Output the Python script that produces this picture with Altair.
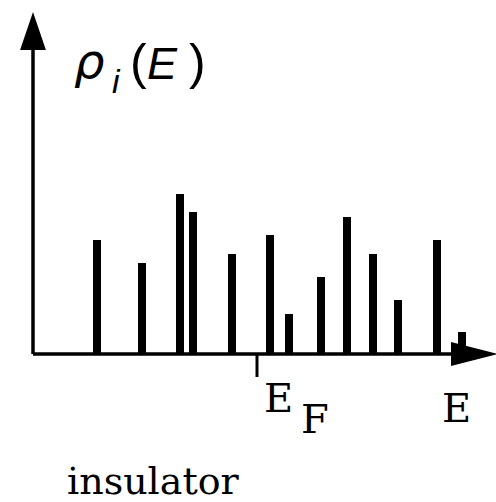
import altair as alt
import pandas as pd

# Discrete energy levels (arbitrary units) and their local DOS weights
levels = [6.4, 10.9, 14.7, 16.0, 19.9, 23.7, 25.6, 28.8, 31.4, 34.0, 36.5, 40.4, 42.9]
weights = [11.4, 9.1, 16.0, 14.2, 10.0, 11.9, 4.0, 7.7, 13.7, 10.0, 5.4, 11.4, 2.2]
fermi_level = 22.4
x_axis_end = 43.7
y_axis_end = 32.4
x_arrow_at = 44.15
y_arrow_at = 32.3
caption = "insulator"

W, H = 496, 502
xs = alt.Scale(domain=[-3.3, 46.3], nice=False, zero=False, padding=0)
ys = alt.Scale(domain=[-14.8, 35.4], nice=False, zero=False, padding=0)

bars_df = pd.DataFrame({"E": levels, "rho": weights, "base": [0.0] * len(levels)})
bars = alt.Chart(bars_df).mark_bar(size=8, color="black").encode(
    x=alt.X("E:Q", scale=xs, axis=None),
    y=alt.Y("rho:Q", scale=ys, axis=None),
    y2="base:Q",
)

axes_df = pd.DataFrame({
    "x": [0.0, 0.0], "x2": [x_axis_end, 0.0],
    "y": [0.0, 0.0], "y2": [0.0, y_axis_end],
})
axes = alt.Chart(axes_df).mark_rule(color="black", strokeWidth=3.5).encode(
    x=alt.X("x:Q", scale=xs, axis=None), x2="x2:Q",
    y=alt.Y("y:Q", scale=ys, axis=None), y2="y2:Q",
)

ef_df = pd.DataFrame({"x": [fermi_level], "y": [0.0], "y2": [-2.3]})
ef_tick = alt.Chart(ef_df).mark_rule(color="black", strokeWidth=3).encode(
    x=alt.X("x:Q", scale=xs, axis=None),
    y=alt.Y("y:Q", scale=ys, axis=None), y2="y2:Q",
)

xarrow_df = pd.DataFrame({"x": [x_arrow_at], "y": [0.0]})
xarrow = alt.Chart(xarrow_df).mark_point(
    shape="M -1 -0.51 L 1 0 L -1 0.51 Z", size=2209, filled=True,
    color="black", opacity=1, strokeWidth=0,
).encode(x=alt.X("x:Q", scale=xs, axis=None), y=alt.Y("y:Q", scale=ys, axis=None))

yarrow_df = pd.DataFrame({"x": [0.0], "y": [y_arrow_at]})
yarrow = alt.Chart(yarrow_df).mark_point(
    shape="M -0.68 1 L 0 -1 L 0.68 1 Z", size=1444, filled=True,
    color="black", opacity=1, strokeWidth=0,
).encode(x=alt.X("x:Q", scale=xs, axis=None), y=alt.Y("y:Q", scale=ys, axis=None))

one = pd.DataFrame({"a": [0]})


def label(txt, px, py, size, font, style="normal", weight="normal"):
    return alt.Chart(one).mark_text(
        text=txt, font=font, fontSize=size, fontStyle=style, fontWeight=weight,
        align="left", baseline="alphabetic", color="black",
    ).encode(x=alt.value(px), y=alt.value(py))


sans = "Liberation Sans"
serif = "DejaVu Serif"
labels = [
    label("ρ", 74, 78, 48, "DejaVu Sans", "italic"),
    label("i", 112, 93, 34, sans, "italic"),
    label("(", 130, 79, 50, sans),
    label("E", 147, 79, 45, sans, "italic"),
    label(")", 189, 79, 50, sans),
    label("E", 264, 412, 40, serif),
    label("F", 301, 433, 40, serif),
    label("E", 442, 422, 40, serif),
    label(caption, 67, 494, 38, serif),
]

chart = alt.layer(axes, ef_tick, bars, xarrow, yarrow, *labels).properties(
    width=W, height=H, padding=0, autosize=alt.AutoSizeParams(type="none"),
    background="white",
).configure_view(stroke=None)

chart.save("out.html", embed_options={"renderer": "svg", "actions": False})
